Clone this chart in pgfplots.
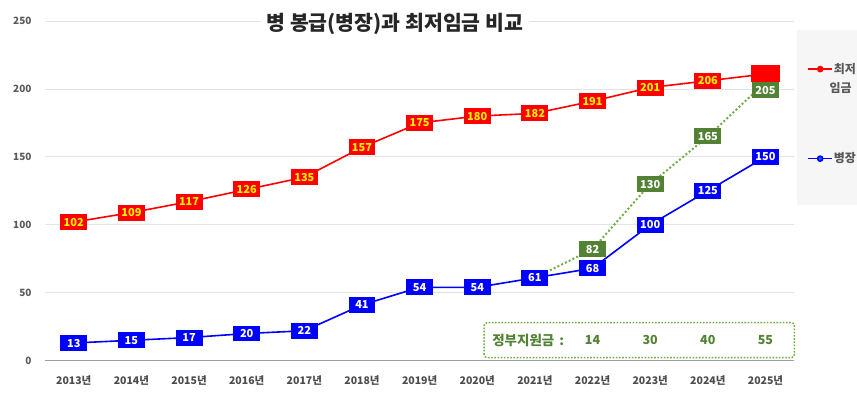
\documentclass[border=0pt]{standalone}
\usepackage{pgfplots}
\pgfplotsset{compat=1.18}
\usepackage{fontspec}
\setmainfont{Noto Sans CJK KR}
\definecolor{gridgray}{HTML}{E3E3E3}
\definecolor{txtgray}{HTML}{595959}
\definecolor{boxgreen}{HTML}{548235}
\definecolor{dotgreen}{HTML}{70AD47}
\definecolor{pblue}{HTML}{0000FF}
\definecolor{pred}{HTML}{FF0000}
\begin{document}
\begin{tikzpicture}
\begin{axis}[name=ax, scale only axis, width=750pt, height=340pt,
  xmin=-0.5, xmax=12.5, ymin=0, ymax=250,
  xtick={0,...,12},
  xticklabels={2013년,2014년,2015년,2016년,2017년,2018년,2019년,2020년,2021년,2022년,2023년,2024년,2025년},
  ytick={0,50,...,250},
  axis lines*=left,
  y axis line style={draw=none},
  x axis line style={draw=gray!75, line width=1.5pt},
  major tick length=0pt,
  ymajorgrids, grid style={gridgray, line width=0.8pt},
  /pgf/number format/assume math mode=true,
  yticklabel style={font=\fontsize{10}{12}\selectfont\bfseries, text=txtgray, xshift=-10pt},
  xticklabel style={font=\fontsize{10.5}{12}\selectfont\bfseries, text=txtgray!85!black, yshift=-11pt},
  clip=false,
  legend image code/.code={\draw[mark repeat=2,mark phase=2] plot coordinates {(0cm,0cm) (0.42cm,0cm) (0.84cm,0cm)};},
  legend style={at={(rel axis cs:1.0173,0.879)}, anchor=north west, draw=none, fill=none,
    inner sep=0pt, font=\fontsize{12}{17}\selectfont\bfseries, text=txtgray, row sep=76pt,
    nodes={inner sep=1pt}},
  legend cell align=left,
]
% legend panel background
\fill[gray!7] (rel axis cs:1.003,0.4588) rectangle (rel axis cs:1.083,0.9735);
\node[anchor=west, inner sep=1pt, font=\fontsize{12}{17}\selectfont\bfseries, text=txtgray] at (rel axis cs:1.0455,0.803) {임금};
% government support box
\draw[dotgreen, line width=1.6pt, dash pattern=on 1.6pt off 1.6pt, rounded corners=3pt]
  (axis cs:7.12,2.2) rectangle (axis cs:12.5,28);
\node[boxgreen, font=\fontsize{13.5}{15}\selectfont\bfseries, anchor=west] at (axis cs:7.2,15) {정부지원금\hspace{5pt}:};
\node[boxgreen, font=\fontsize{12.5}{15}\selectfont\bfseries] at (axis cs:9,15) {14};
\node[boxgreen, font=\fontsize{12.5}{15}\selectfont\bfseries] at (axis cs:10,15) {30};
\node[boxgreen, font=\fontsize{12.5}{15}\selectfont\bfseries] at (axis cs:11,15) {40};
\node[boxgreen, font=\fontsize{12.5}{15}\selectfont\bfseries] at (axis cs:12,15) {55};
% title
\node[fill=white, inner xsep=6pt, font=\fontsize{20.5}{24}\selectfont\bfseries, text=black!85] at (axis cs:5.57,248) {병 봉급(병장)과 최저임금 비교};

% green dotted line
\addplot[forget plot, dotgreen, line width=2pt, dash pattern=on 2pt off 2.2pt, mark=none]
  coordinates {(8,61) (9,82) (10,130) (11,165) (12,205)};
% red line
\addplot[pred, line width=1.6pt, mark=*, mark size=2.5pt]
  coordinates {(0,102) (1,109) (2,117) (3,126) (4,135) (5,157) (6,175) (7,180) (8,182) (9,191) (10,201) (11,206) (12,211)};
\addlegendentry{최저}
% blue line
\addplot[pblue, line width=1.6pt, mark=*, mark size=2.5pt, mark options={fill=pblue!60!cyan}]
  coordinates {(0,13) (1,15) (2,17) (3,20) (4,22) (5,41) (6,54) (7,54) (8,61) (9,68) (10,100) (11,125) (12,150)};
\addlegendentry{병장}

\pgfplotsset{
  lab/.style={forget plot, draw=none, mark=none, nodes near coords,
    nodes near coords style={anchor=center, font=\fontsize{11}{13}\selectfont\bfseries,
      inner xsep=3pt, inner ysep=1pt, minimum height=16pt, minimum width=27pt}},
}
% blue labels
\addplot[lab, nodes near coords style={fill=pblue, text=white}]
  coordinates {(0,13) (1,15) (2,17) (3,20) (4,22) (5,41) (6,54) (7,54) (8,61) (9,68) (10,100) (11,125) (12,150)};
% red labels
\addplot[lab, nodes near coords style={fill=pred, text=yellow}]
  coordinates {(0,102) (1,109) (2,117) (3,126) (4,135) (5,157) (6,175) (7,180) (8,182) (9,191) (10,201) (11,206)};
% red 2025 box (no visible text)
\addplot[lab, nodes near coords style={fill=pred, text=pred, minimum width=30pt, minimum height=17pt}]
  coordinates {(12,211)};
% green labels
\addplot[lab, nodes near coords style={fill=boxgreen, text=white}]
  coordinates {(9,82) (10,130) (11,165)};
\addplot[lab, nodes near coords style={fill=boxgreen, text=white, yshift=-8pt}]
  coordinates {(12,205)};
\end{axis}
\path ([shift={(-45pt,-36pt)}]ax.south west) rectangle ([shift={(62pt,21pt)}]ax.north east);
\end{tikzpicture}
\end{document}
